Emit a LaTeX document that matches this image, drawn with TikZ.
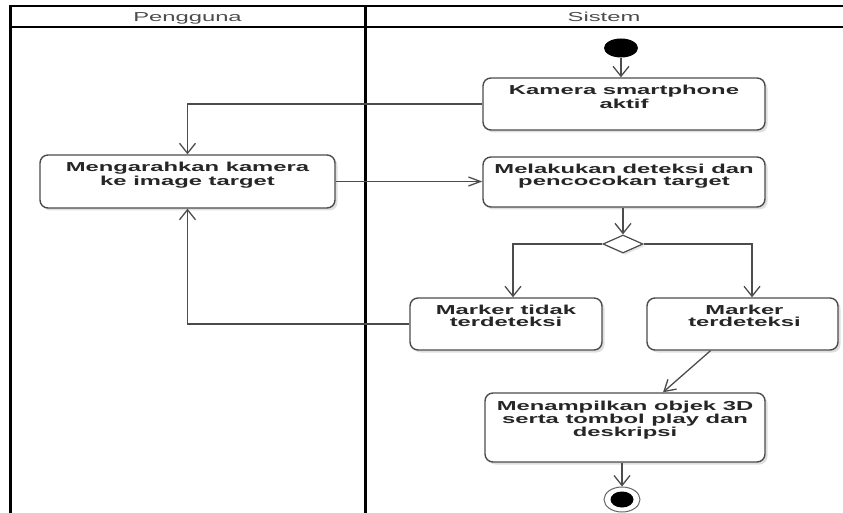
\documentclass[tikz,border=0pt]{standalone}
\usepackage{graphicx}
\usepackage{fontspec}
\setmainfont{Liberation Sans}
\usetikzlibrary{arrows.meta,shapes.geometric,shadows}

% wide lettering used throughout the activity diagram
\newcommand{\hstretch}[1]{\scalebox{1.83}[1]{#1}}

\tikzset{
  lane/.style={line width=3pt, draw=black},
  laneh/.style={line width=2pt, draw=black},
  head/.style={font=\fontsize{13}{15}\selectfont, text=black!70, inner sep=0pt, anchor=base},
  act/.style={draw=black!70, line width=1.4pt, rounded corners=8pt, fill=white, inner sep=0pt,
    drop shadow={shadow xshift=2.5pt, shadow yshift=-2.5pt, fill=black!25, opacity=.5}},
  acttext/.style={font=\fontsize{13}{11.7}\selectfont\bfseries, text=black!85, align=center,
    inner sep=0pt, anchor=north},
  flow/.style={draw=black!70, line width=1.3pt},
  varrow/.style={-{Straight Barb[length=10pt,width=16pt]}},
  harrow/.style={-{Straight Barb[length=12pt,width=9pt]}},
  darrow/.style={-{Straight Barb[length=11pt,width=13pt]}},
}

\begin{document}
\begin{tikzpicture}[x=1pt,y=-1pt]
\useasboundingbox (0,0) rectangle (843,513);

% swimlanes
\draw[laneh] (10,6.5) -- (843,6.5);
\draw[laneh] (10,27) -- (843,27);
\draw[lane] (10,5.5) -- (10,513);
\draw[lane] (365,5.5) -- (365,513);
\node[head] (hPengguna) at (187.5,21.5) {\hstretch{Pengguna}};
\node[head] (hSistem) at (604,21.5) {\hstretch{Sistem}};

% initial node
\node[ellipse, fill=black, inner sep=0pt, minimum width=34pt, minimum height=19pt] (start) at (621,48) {};

% activities
\node[act, minimum width=282pt, minimum height=52pt] (kam) at (624,104) {};
\node[act, minimum width=282pt, minimum height=50pt] (mel) at (624,182) {};
\node[act, minimum width=295pt, minimum height=53pt] (meng) at (187.5,181.5) {};
\node[act, minimum width=192pt, minimum height=52pt] (tidak) at (506,324) {};
\node[act, minimum width=191pt, minimum height=52pt] (terd) at (742.5,324) {};
\node[act, minimum width=280pt, minimum height=69pt] (tamp) at (625,427.5) {};

\node[acttext] (kamT) at ([yshift=-8pt]kam.north) {\hstretch{Kamera smartphone}\\\hstretch{aktif}};
\node[acttext] (melT) at ([yshift=-8pt]mel.north) {\hstretch{Melakukan deteksi dan}\\\hstretch{pencocokan target}};
\node[acttext] (mengT) at ([yshift=-8pt]meng.north) {\hstretch{Mengarahkan kamera}\\\hstretch{ke image target}};
\node[acttext] (tidakT) at ([yshift=-7.5pt]tidak.north) {\hstretch{Marker tidak}\\\hstretch{terdeteksi}};
\node[acttext] (terdT) at ([xshift=2pt,yshift=-7.5pt]terd.north) {\hstretch{Marker}\\\hstretch{terdeteksi}};
\node[acttext] (tampT) at ([yshift=-8.5pt]tamp.north) {\hstretch{Menampilkan objek 3D}\\\hstretch{serta tombol play dan}\\\hstretch{deskripsi}};

% decision
\node[diamond, draw=black!70, line width=1.2pt, fill=white, inner sep=0pt,
      minimum width=40pt, minimum height=18pt,
      drop shadow={shadow xshift=2pt, shadow yshift=-2pt, fill=black!20, opacity=.5}] (dec) at (623,244) {};

% final node
\node[ellipse, draw=black!60, line width=1pt, fill=white, inner sep=0pt, minimum width=36pt, minimum height=25pt] (fin) at (622,499.5) {};
\node[ellipse, fill=black, inner sep=0pt, minimum width=23pt, minimum height=16pt] (finIn) at (fin) {};

% control flow
\draw[flow,varrow] (start.south) -- (start.south |- kam.north);
\draw[flow,varrow] (kam.west) -| (meng.north);
\draw[flow,harrow] (meng.east) -- (meng.east -| mel.west);
\draw[flow,varrow] (mel.south -| dec) -- (dec.north);
\draw[flow,varrow] (dec.west) -| ([xshift=7pt]tidak.north);
\draw[flow,varrow] (dec.east) -| ([xshift=9.5pt]terd.north);
\draw[flow,varrow] (tidak.west) -| (meng.south);
\draw[flow,darrow] ([xshift=-32pt]terd.south) -- ([xshift=38pt]tamp.north);
\draw[flow,varrow] (tamp.south -| fin) -- (fin.north);
\end{tikzpicture}
\end{document}
